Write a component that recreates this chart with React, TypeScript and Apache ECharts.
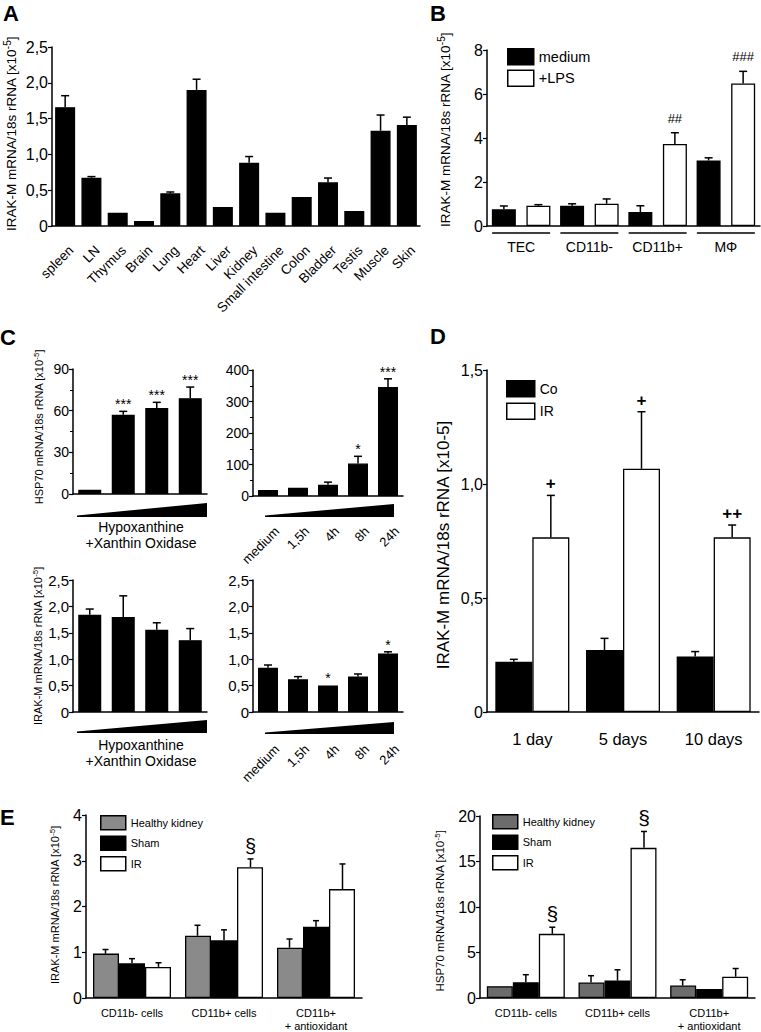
import React, { useEffect, useRef } from 'react';
import * as echarts from 'echarts';

const FF = '"Liberation Sans", Arial, Helvetica, sans-serif';

// ---------- Panel A ----------
const catsA = ['spleen', 'LN', 'Thymus', 'Brain', 'Lung', 'Heart', 'Liver', 'Kidney', 'Small intestine', 'Colon', 'Bladder', 'Testis', 'Muscle', 'Skin'];
const valA = [1.66, 0.675, 0.186, 0.07, 0.456, 1.9, 0.265, 0.885, 0.186, 0.405, 0.61, 0.21, 1.33, 1.41];
const errA = [1.82, 0.69, 0.186, 0.07, 0.475, 2.05, 0.265, 0.97, 0.19, 0.415, 0.67, 0.21, 1.55, 1.52];

// ---------- Panel B ----------
const catsB = ['TEC', 'CD11b-', 'CD11b+', 'MΦ'];
const mediumB = [0.76, 0.92, 0.64, 2.98];
const mediumErrB = [0.91, 1.01, 0.92, 3.1];
const lpsB = [0.92, 1.01, 3.73, 6.48];
const lpsErrB = [0.97, 1.23, 4.24, 7.03];
const lpsAnnB = ['', '', '##', '###'];

// ---------- Panel C ----------
const catsHX = ['step 1', 'step 2', 'step 3', 'step 4'];
const catsTime = ['medium', '1,5h', '4h', '8h', '24h'];
const hspHX = [3, 57, 62, 69];
const hspHXErr = [3, 59.5, 66, 77];
const hspHXAnn = ['', '***', '***', '***'];
const hspTime = [19, 26, 36, 103, 346];
const hspTimeErr = [19, 29, 44, 126, 372];
const hspTimeAnn = ['', '', '', '*', '***'];
const irakHX = [1.84, 1.8, 1.56, 1.36];
const irakHXErr = [1.95, 2.2, 1.69, 1.58];
const irakTime = [0.84, 0.62, 0.5, 0.67, 1.11];
const irakTimeErr = [0.89, 0.67, 0.51, 0.72, 1.14];
const irakTimeAnn = ['', '', '*', '', '*'];

// ---------- Panel D ----------
const catsD = ['1 day', '5 days', '10 days'];
const coD = [0.22, 0.272, 0.243];
const coErrD = [0.231, 0.323, 0.265];
const irD = [0.766, 1.067, 0.766];
const irErrD = [0.95, 1.317, 0.82];
const irAnnD = ['+', '+', '++'];

// ---------- Panel E ----------
const catsE = ['CD11b- cells', 'CD11b+ cells', 'CD11b+\n+ antioxidant'];
const e1Healthy = [0.97, 1.36, 1.1];
const e1HealthyErr = [1.06, 1.59, 1.29];
const e1Sham = [0.76, 1.26, 1.56];
const e1ShamErr = [0.86, 1.49, 1.69];
const e1IR = [0.68, 2.86, 2.38];
const e1IRErr = [0.77, 3.04, 2.93];
const e1IRAnn = ['', '§', ''];
const e2Healthy = [1.3, 1.7, 1.37];
const e2HealthyErr = [1.35, 2.45, 2.0];
const e2Sham = [1.73, 1.91, 1.0];
const e2ShamErr = [2.56, 3.1, 1.08];
const e2IR = [7.05, 16.5, 2.34];
const e2IRErr = [7.78, 18.3, 3.24];
const e2IRAnn = ['§', '§', ''];

const comma = (v: number) => (v === 0 ? '0' : v.toFixed(1).replace('.', ','));

function yAxisVal(gridIndex: number, max: number, interval: number, fontSize: number, fmt?: (v: number) => string, minor = false) {
  const ax: any = {
    type: 'value', gridIndex, min: 0, max, interval,
    splitLine: { show: false },
    axisLine: { show: true, lineStyle: { color: '#000', width: 1.5 } },
    axisTick: { show: true, length: 4, lineStyle: { color: '#000', width: 1.2 } },
    minorTick: { show: minor, splitNumber: 2, length: 3, lineStyle: { color: '#000', width: 1 } },
    axisLabel: { color: '#000', fontSize, fontFamily: FF, margin: 4 },
  };
  if (fmt) ax.axisLabel.formatter = fmt;
  return ax;
}

function xAxisCat(gridIndex: number, data: string[], label: any) {
  return {
    type: 'category', gridIndex, data,
    axisLine: { show: true, onZero: false, lineStyle: { color: '#000', width: 1.5 } },
    axisTick: { show: false },
    axisLabel: { color: '#000', fontFamily: FF, interval: 0, ...label },
  };
}

function bar(name: string, idx: number, data: number[], color: string, bw: number, gap: string) {
  return {
    type: 'bar', name, xAxisIndex: idx, yAxisIndex: idx, data, barWidth: bw, barGap: gap,
    itemStyle: { color, borderColor: '#000', borderWidth: 1.3 }, z: 2, silent: true,
  };
}

// 45° category labels, right end anchored at each category position given by the axis
function rotLabels(idx: number, cats: string[], dx: number, dy: number, size: number) {
  return {
    type: 'custom', xAxisIndex: idx, yAxisIndex: idx, data: cats.map((_, i) => [i, 0]), silent: true, z: 5,
    renderItem: (params: any, api: any) => {
      const p = api.coord([api.value(0), 0]);
      return {
        type: 'text', x: p[0] + dx, y: p[1] + dy, rotation: Math.PI / 4,
        style: { text: cats[params.dataIndex], fontSize: size, fontFamily: FF, fill: '#000', align: 'right', verticalAlign: 'middle' },
      };
    },
  };
}

type Grp = { v: number[]; e: number[]; a?: string[] };
function errSeries(idx: number, groups: Grp[], step: number, cap: number, ann: { size: number; weight?: string; gap: number }) {
  const data: number[][] = [];
  const anns: string[] = [];
  groups.forEach((gr, g) => gr.v.forEach((v, c) => { data.push([c, g, v, gr.e[c]]); anns.push(gr.a ? gr.a[c] : ''); }));
  const n = groups.length;
  return {
    type: 'custom', xAxisIndex: idx, yAxisIndex: idx, data, z: 5, silent: true,
    encode: { x: 0, y: 3 },
    renderItem: (params: any, api: any) => {
      const c = api.value(0), g = api.value(1), v = api.value(2), e = api.value(3);
      const off = (g - (n - 1) / 2) * step;
      const pb = api.coord([c, v]);
      const pt = api.coord([c, e]);
      const x = pb[0] + off;
      const children: any[] = [];
      if (pb[1] - pt[1] > 1) {
        children.push({ type: 'line', shape: { x1: x, y1: pb[1], x2: x, y2: pt[1] }, style: { stroke: '#000', lineWidth: 1.5 } });
        children.push({ type: 'line', shape: { x1: x - cap, y1: pt[1], x2: x + cap, y2: pt[1] }, style: { stroke: '#000', lineWidth: 1.5 } });
      }
      const t = anns[params.dataIndex];
      if (t) {
        children.push({
          type: 'text', x, y: Math.min(pt[1], pb[1]) - ann.gap,
          style: { text: t, fill: '#000', fontSize: ann.size, fontWeight: ann.weight || 'normal', fontFamily: FF, align: 'center', verticalAlign: 'bottom' },
        });
      }
      return { type: 'group', children };
    },
  };
}

function ytitle(x: number, y: number, main: string, size: number, sup?: string, tail?: string) {
  const text = sup ? `{a|${main}}{b|${sup}}{a|${tail}}` : `{a|${main}}`;
  return {
    type: 'text', x, y, rotation: Math.PI / 2,
    style: {
      text,
      rich: {
        a: { fontSize: size, fontFamily: FF, fill: '#000' },
        b: { fontSize: Math.round(size * 0.72), fontFamily: FF, fill: '#000', padding: [0, 0, Math.round(size * 0.55), 0] },
      },
      fontSize: size, fontFamily: FF, fill: '#000', align: 'center', verticalAlign: 'middle',
    },
  };
}

function letter(t: string, x: number, y: number) {
  return { type: 'text', x, y, style: { text: t, fontSize: 22, fontWeight: 'bold', fontFamily: FF, fill: '#000', align: 'left', verticalAlign: 'middle' } };
}

function wedge(x1: number, x2: number, yb: number, yt: number) {
  return { type: 'polygon', shape: { points: [[x1, yb], [x1, yb - 1.5], [x2, yt], [x2, yb]] }, style: { fill: '#000' } };
}

function caption(x: number, y: number) {
  return {
    type: 'text', x, y,
    style: { text: 'Hypoxanthine\n+Xanthin Oxidase', fontSize: 14, lineHeight: 16, fontFamily: FF, fill: '#000', align: 'center', verticalAlign: 'middle' },
  };
}

function buildOption(): any {
  const grid = [
    { left: 52, top: 47, width: 368, height: 179 },   // 0 A
    { left: 487, top: 50, width: 273, height: 176 },  // 1 B
    { left: 73, top: 369, width: 134, height: 125 },  // 2 C1
    { left: 253, top: 370, width: 150, height: 126 }, // 3 C2
    { left: 73, top: 580, width: 134, height: 132 },  // 4 C3
    { left: 253, top: 580, width: 150, height: 132 }, // 5 C4
    { left: 487, top: 370, width: 272, height: 342 }, // 6 D
    { left: 86, top: 815, width: 276, height: 187 },  // 7 E1
    { left: 480, top: 816, width: 275, height: 185 }, // 8 E2
  ];

  const xAxis = [
    xAxisCat(0, catsA, { show: false }),
    xAxisCat(1, catsB, { fontSize: 14, margin: 14 }),
    xAxisCat(2, catsHX, { show: false }),
    xAxisCat(3, catsTime, { show: false }),
    xAxisCat(4, catsHX, { show: false }),
    xAxisCat(5, catsTime, { show: false }),
    xAxisCat(6, catsD, { fontSize: 16.5, margin: 18 }),
    xAxisCat(7, catsE, { fontSize: 11, margin: 8, lineHeight: 13 }),
    xAxisCat(8, catsE, { fontSize: 11, margin: 8, lineHeight: 13 }),
  ];

  const yAxis = [
    yAxisVal(0, 2.5, 0.5, 16, comma),
    yAxisVal(1, 8, 2, 16),
    yAxisVal(2, 90, 30, 14, undefined, true),
    yAxisVal(3, 400, 100, 14, undefined, true),
    yAxisVal(4, 2.5, 0.5, 15, comma),
    yAxisVal(5, 2.5, 0.5, 15, comma),
    yAxisVal(6, 1.5, 0.5, 16, comma),
    yAxisVal(7, 4, 1, 16),
    yAxisVal(8, 20, 5, 16),
  ];

  const series: any[] = [
    // A
    bar('A', 0, valA, '#000', 20, '0%'),
    errSeries(0, [{ v: valA, e: errA }], 0, 4, { size: 13, gap: 2 }),
    rotLabels(0, catsA, 6, 22, 13.5),
    // B
    bar('medium', 1, mediumB, '#000', 24, '44%'),
    bar('+LPS', 1, lpsB, '#fff', 24, '44%'),
    errSeries(1, [{ v: mediumB, e: mediumErrB }, { v: lpsB, e: lpsErrB, a: lpsAnnB }], 34.5, 4, { size: 13, gap: 8 }),
    {
      type: 'custom', xAxisIndex: 1, yAxisIndex: 1, data: catsB.map((_, i) => [i, 0]), silent: true, z: 5,
      renderItem: (_p: any, api: any) => {
        const p = api.coord([api.value(0), 0]);
        return { type: 'line', shape: { x1: p[0] - 29, y1: p[1] + 7, x2: p[0] + 29, y2: p[1] + 7 }, style: { stroke: '#000', lineWidth: 1.5 } };
      },
    },
    // C1
    bar('HSP70 HX', 2, hspHX, '#000', 23, '0%'),
    errSeries(2, [{ v: hspHX, e: hspHXErr, a: hspHXAnn }], 0, 4, { size: 14, gap: 0 }),
    // C2
    bar('HSP70 time', 3, hspTime, '#000', 20, '0%'),
    errSeries(3, [{ v: hspTime, e: hspTimeErr, a: hspTimeAnn }], 0, 4, { size: 14, gap: 0 }),
    rotLabels(3, catsTime, 9, 33, 13),
    // C3
    bar('IRAK-M HX', 4, irakHX, '#000', 23, '0%'),
    errSeries(4, [{ v: irakHX, e: irakHXErr }], 0, 4, { size: 14, gap: 0 }),
    // C4
    bar('IRAK-M time', 5, irakTime, '#000', 20, '0%'),
    errSeries(5, [{ v: irakTime, e: irakTimeErr, a: irakTimeAnn }], 0, 4, { size: 14, gap: 0 }),
    rotLabels(5, catsTime, 9, 35, 13),
    // D
    bar('Co', 6, coD, '#000', 37, '0%'),
    bar('IR', 6, irD, '#fff', 37, '0%'),
    errSeries(6, [{ v: coD, e: coErrD }, { v: irD, e: irErrD, a: irAnnD }], 37, 4, { size: 17, weight: 'bold', gap: 3 }),
    // E1
    bar('Healthy kidney', 7, e1Healthy, '#8a8a8a', 26, '0%'),
    bar('Sham', 7, e1Sham, '#000', 26, '0%'),
    bar('IR', 7, e1IR, '#fff', 26, '0%'),
    errSeries(7, [{ v: e1Healthy, e: e1HealthyErr }, { v: e1Sham, e: e1ShamErr }, { v: e1IR, e: e1IRErr, a: e1IRAnn }], 26.5, 3, { size: 20, gap: 3 }),
    // E2
    bar('Healthy kidney ', 8, e2Healthy, '#6c6c6c', 26, '0%'),
    bar('Sham ', 8, e2Sham, '#000', 26, '0%'),
    bar('IR ', 8, e2IR, '#fff', 26, '0%'),
    errSeries(8, [{ v: e2Healthy, e: e2HealthyErr }, { v: e2Sham, e: e2ShamErr }, { v: e2IR, e: e2IRErr, a: e2IRAnn }], 26.5, 3, { size: 21, gap: 3 }),
  ];

  const legBase = {
    orient: 'vertical', padding: 0, icon: 'rect', selectedMode: false,
    itemStyle: { borderColor: '#000', borderWidth: 1.5 },
    formatter: (n: string) => n.trim(),
  };
  const legend = [
    { ...legBase, data: ['medium', '+LPS'], left: 507, top: 48, itemWidth: 26, itemHeight: 16, itemGap: 4, textStyle: { fontSize: 14.5, fontFamily: FF, color: '#000' } },
    { ...legBase, data: ['Co', 'IR'], left: 506, top: 380, itemWidth: 28, itemHeight: 16, itemGap: 5, textStyle: { fontSize: 14, fontFamily: FF, color: '#000' } },
    { ...legBase, data: ['Healthy kidney', 'Sham', 'IR'], left: 100, top: 815, itemWidth: 25, itemHeight: 14, itemGap: 5, textStyle: { fontSize: 11, fontFamily: FF, color: '#000' } },
    { ...legBase, data: ['Healthy kidney ', 'Sham ', 'IR '], left: 492, top: 814, itemWidth: 25, itemHeight: 14, itemGap: 5, textStyle: { fontSize: 11, fontFamily: FF, color: '#000' } },
  ];

  const graphic = [
    letter('A', 3, 13), letter('B', 430, 13), letter('C', 0, 337), letter('D', 430, 336), letter('E', 0, 817),
    ytitle(11, 134, 'IRAK-M mRNA/18s rRNA [x10', 13.5, '-5', ']'),
    ytitle(445, 130, 'IRAK-M mRNA/18s rRNA [x10', 13.5, '-5', ']'),
    ytitle(39, 427, 'HSP70 mRNA/18s rRNA [x10', 11, '-5', ']'),
    ytitle(38, 646, 'IRAK-M mRNA/18s rRNA [x10', 11, '-5', ']'),
    ytitle(443, 545, 'IRAK-M mRNA/18s rRNA [x10-5]', 17),
    ytitle(55, 905, 'IRAK-M mRNA/18s rRNA [x10', 11, '-5', ']'),
    ytitle(440, 911, 'HSP70 mRNA/18s rRNA [x10', 11.5, '-5', ']'),
    wedge(77, 207, 517, 503),
    wedge(265, 394, 517, 504),
    wedge(77, 207, 733, 720),
    wedge(265, 394, 734, 722),
    caption(141, 535),
    caption(141, 753),
  ];

  return { animation: false, backgroundColor: '#fff', grid, xAxis, yAxis, series, legend, graphic };
}

export default function App() {
  const ref = useRef<HTMLDivElement>(null);
  useEffect(() => {
    const chart = echarts.init(ref.current!, null, { renderer: 'svg' });
    chart.setOption(buildOption());
    return () => chart.dispose();
  }, []);
  return <div ref={ref} style={{ position: 'absolute', left: 0, top: 0, width: 761, height: 1032, background: '#fff' }} />;
}
